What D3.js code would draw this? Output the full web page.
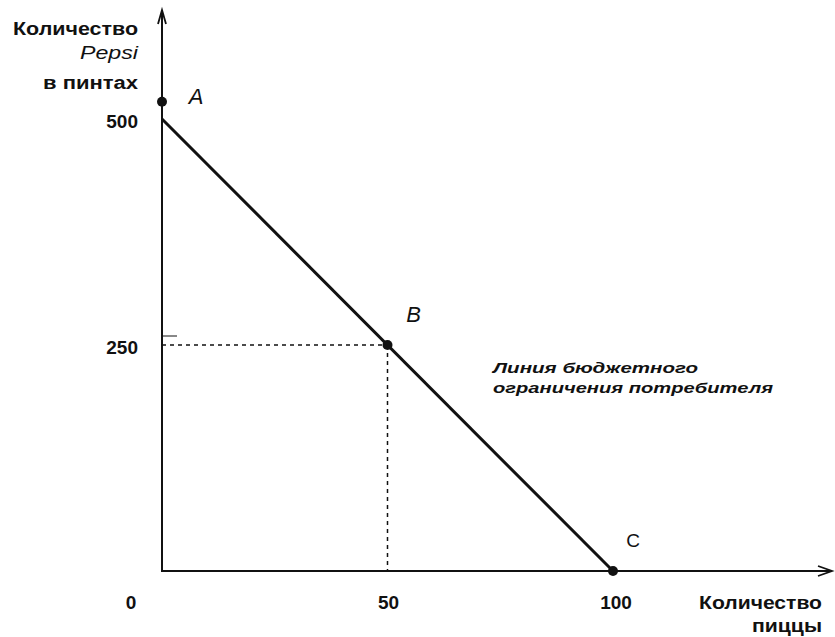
<!DOCTYPE html>
<html><head><meta charset="utf-8">
<script src="https://cdn.jsdelivr.net/npm/d3@7"></script>
<style>body{margin:0;background:#fff}text{font-family:"Liberation Sans",Arial,sans-serif;fill:#111;font-weight:bold}</style>
</head><body><svg id="c" width="835" height="637"></svg>
<script>
const budgetLine = [{x:0,y:500},{x:100,y:0}];
const points = [{name:"A",x:0,y:519},{name:"B",x:50,y:250},{name:"C",x:100,y:0}];
const xTicks = [0,50,100];
const yTicks = [250,500];
const yTitle = ["Количество","Pepsi","в пинтах"];
const xTitle = ["Количество","пиццы"];
const note = ["Линия бюджетного","ограничения потребителя"];

const svg = d3.select("#c");
const x = d3.scaleLinear().domain([0,100]).range([162,613]);
const y = d3.scaleLinear().domain([0,500]).range([571,119]);

// axes
svg.append("line").attr("x1",x(0)).attr("x2",x(0)).attr("y1",y(0)+1).attr("y2",12).attr("stroke","#111").attr("stroke-width",2);
svg.append("path").attr("d",`M${x(0)-4},24 L${x(0)},10 L${x(0)+4},24`).attr("fill","none").attr("stroke","#111").attr("stroke-width",1.8);
svg.append("line").attr("x1",x(0)-1).attr("x2",830).attr("y1",y(0)).attr("y2",y(0)).attr("stroke","#111").attr("stroke-width",2);
svg.append("path").attr("d",`M818,${y(0)-5} L832,${y(0)} L818,${y(0)+5}`).attr("fill","none").attr("stroke","#111").attr("stroke-width",1.8);

// dotted guides for B
const B = points[1];
svg.append("line").attr("x1",x(0)).attr("x2",x(B.x)).attr("y1",y(B.y)).attr("y2",y(B.y))
  .attr("stroke","#111").attr("stroke-width",1.5).attr("stroke-dasharray","4,4");
svg.append("line").attr("x1",x(B.x)).attr("x2",x(B.x)).attr("y1",y(B.y)).attr("y2",y(0))
  .attr("stroke","#111").attr("stroke-width",1.5).attr("stroke-dasharray","4,4");
svg.append("line").attr("x1",x(0)).attr("x2",x(0)+15).attr("y1",y(B.y)-9).attr("y2",y(B.y)-9).attr("stroke","#111").attr("stroke-width",1);

// budget line
svg.append("path").datum(budgetLine).attr("d",d3.line().x(d=>x(d.x)).y(d=>y(d.y)))
  .attr("stroke","#111").attr("stroke-width",3).attr("fill","none");

// points
svg.selectAll("circle.p").data(points).join("circle").attr("cx",d=>x(d.x)).attr("cy",d=>y(d.y)).attr("r",5).attr("fill","#111");
const off = {A:[34,2],B:[26,-23],C:[20,-24]};
svg.selectAll("text.pl").data(points).join("text").attr("x",d=>x(d.x)+off[d.name][0]).attr("y",d=>y(d.y)+off[d.name][1])
  .attr("text-anchor","middle").attr("font-size",d=>d.name==="C"?19:22).style("font-weight","normal")
  .attr("font-style",d=>d.name==="C"?"normal":"italic").text(d=>d.name);

// tick labels
svg.selectAll("text.xt").data(xTicks).join("text").attr("x",d=>d===0?131:x(d)+(d===100?3:1)).attr("y",609)
  .attr("text-anchor","middle").attr("font-size",19).text(d=>d);
svg.selectAll("text.yt").data(yTicks).join("text").attr("x",138).attr("y",d=>y(d)+8.5)
  .attr("text-anchor","end").attr("font-size",19).text(d=>d);

// titles
const yTitleLen = [125,58,95];
svg.selectAll("text.yti").data(yTitle).join("text").attr("x",138).attr("y",(d,i)=>[35,59,89][i])
  .attr("text-anchor","end").attr("font-size",18).attr("textLength",(d,i)=>yTitleLen[i]).attr("lengthAdjust","spacingAndGlyphs")
  .style("font-weight",(d,i)=>i===1?"normal":"bold").attr("font-style",(d,i)=>i===1?"italic":"normal").text(d=>d);
const xTitleLen = [123,70];
svg.selectAll("text.xti").data(xTitle).join("text").attr("x",822).attr("y",(d,i)=>[609,632][i])
  .attr("text-anchor","end").attr("font-size",19).attr("textLength",(d,i)=>xTitleLen[i]).attr("lengthAdjust","spacingAndGlyphs").text(d=>d);
const noteLen = [205,280];
svg.selectAll("text.note").data(note).join("text").attr("x",493).attr("y",(d,i)=>[373,393][i])
  .attr("font-size",15.5).attr("font-style","italic").attr("textLength",(d,i)=>noteLen[i]).attr("lengthAdjust","spacingAndGlyphs").text(d=>d);
</script></body></html>
